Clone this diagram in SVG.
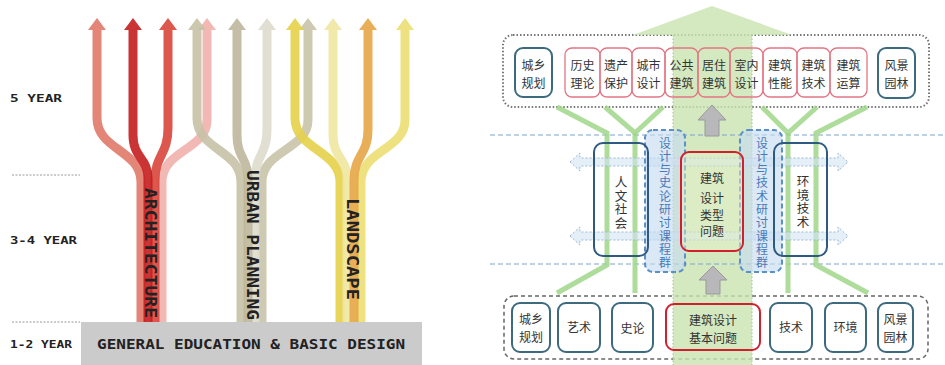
<svg xmlns="http://www.w3.org/2000/svg" width="945" height="365" viewBox="0 0 945 365">
<style>
.lbl{font-family:"DejaVu Sans Mono","Liberation Mono",monospace;font-weight:bold;fill:#222;}
.stem{fill:none;stroke-width:9;opacity:0.9;}
.head{opacity:0.9;}
.cn{font-family:"Noto Sans CJK SC","Noto Sans",sans-serif;font-size:12px;fill:#333;text-anchor:middle;}
.vt{font-family:"Noto Sans CJK SC","Noto Sans",sans-serif;writing-mode:vertical-rl;text-anchor:start;}
.pink{fill:none;stroke:#e27684;stroke-width:1.3;}
.teal{fill:#fff;stroke:#3d6a7e;stroke-width:2;}
.tealT{fill:none;stroke:#2e5a80;stroke-width:2;}
.gl{fill:none;stroke:#9fd68a;stroke-width:5;opacity:0.85;}
.bdash{stroke:#7fa3c8;stroke-width:1;stroke-dasharray:5 3;fill:none;}
.harr{fill:#d4e4f4;fill-opacity:0.6;stroke:#9db7d3;stroke-width:1;stroke-dasharray:2 2;}
.vbox{fill:#c8dcf0;fill-opacity:0.65;stroke:#5b8fc8;stroke-width:2;stroke-dasharray:5 3;}
.garr{fill:#b8b8bb;stroke:#999;stroke-width:1;}
</style>

<!-- LEFT PANEL -->
<g id="left-panel">
  <g id="year-labels">
    <text class="lbl" x="10" y="102" font-size="11" textLength="52" lengthAdjust="spacingAndGlyphs">5 YEAR</text>
    <text class="lbl" x="10" y="244" font-size="11" textLength="67" lengthAdjust="spacingAndGlyphs">3-4 YEAR</text>
    <text class="lbl" x="10" y="348" font-size="11" textLength="62" lengthAdjust="spacingAndGlyphs">1-2 YEAR</text>
    <line x1="12" y1="175" x2="80" y2="175" stroke="#999" stroke-width="1" stroke-dasharray="2 1.5"/>
    <line x1="12" y1="322" x2="80" y2="322" stroke="#999" stroke-width="1" stroke-dasharray="2 1.5"/>
  </g>
  <g id="base">
    <rect x="81" y="322" width="341" height="43" fill="#cbcbcb"/>
    <text class="lbl" x="97" y="349" font-size="14" textLength="308" lengthAdjust="spacingAndGlyphs">GENERAL EDUCATION &amp; BASIC DESIGN</text>
  </g>
  <g id="streams">
    <path class="stem" stroke="#e07868" d="M97 30V118C97 150 141 150 141 182V322"/>
    <polygon class="head" fill="#e07868" points="88,30 97,18 106,30"/>
    <path class="stem" stroke="#f0b0ac" d="M207 30V120C207 150 162 150 162 182V322"/>
    <polygon class="head" fill="#f0b0ac" points="198,30 207,18 216,30"/>
    <path class="stem" stroke="#d8453a" d="M168 30V128C168 155 155 155 155 180V322"/>
    <polygon class="head" fill="#d8453a" points="159,30 168,18 177,30"/>
    <path class="stem" stroke="#c41e1e" d="M133 30V135C133 158 148 158 148 178V322"/>
    <polygon class="head" fill="#c41e1e" points="124,30 133,18 142,30"/>
    <path class="stem" stroke="#c6c1a6" d="M197 30V118C197 150 241 150 241 182V322"/>
    <polygon class="head" fill="#c6c1a6" points="188,30 197,18 206,30"/>
    <path class="stem" stroke="#c9c4aa" d="M308 30V120C308 150 262 150 262 182V322"/>
    <polygon class="head" fill="#c9c4aa" points="299,30 308,18 317,30"/>
    <path class="stem" stroke="#dedbcc" d="M267 30V130C267 155 255 155 255 180V322"/>
    <polygon class="head" fill="#dedbcc" points="258,30 267,18 276,30"/>
    <path class="stem" stroke="#bcb79b" d="M237 30V135C237 158 248 158 248 178V322"/>
    <polygon class="head" fill="#bcb79b" points="228,30 237,18 246,30"/>
    <path class="stem" stroke="#e6d24a" d="M295 30V118C295 150 340 150 340 182V322"/>
    <polygon class="head" fill="#e6d24a" points="286,30 295,18 304,30"/>
    <path class="stem" stroke="#ecde72" d="M405 30V120C405 150 361 150 361 182V322"/>
    <polygon class="head" fill="#ecde72" points="396,30 405,18 414,30"/>
    <path class="stem" stroke="#f0e7a0" d="M333 30V135C333 158 347 158 347 178V322"/>
    <polygon class="head" fill="#f0e7a0" points="324,30 333,18 342,30"/>
    <path class="stem" stroke="#e6a646" d="M368 30V130C368 155 354 155 354 180V322"/>
    <polygon class="head" fill="#e6a646" points="359,30 368,18 377,30"/>
  </g>
  <g id="stream-labels">
    <text class="lbl" x="150" y="253" font-size="15" text-anchor="middle" dominant-baseline="central" transform="rotate(90 150 253)" textLength="130" lengthAdjust="spacingAndGlyphs">ARCHITECTURE</text>
    <text class="lbl" x="252" y="245" font-size="15" text-anchor="middle" dominant-baseline="central" transform="rotate(90 252 245)" textLength="150" lengthAdjust="spacingAndGlyphs">URBAN PLANNING</text>
    <text class="lbl" x="352" y="249" font-size="15" text-anchor="middle" dominant-baseline="central" transform="rotate(90 352 249)" textLength="102" lengthAdjust="spacingAndGlyphs">LANDSCAPE</text>
  </g>
</g>

<!-- RIGHT PANEL -->
<g id="frames">
  <rect x="503" y="35" width="426" height="72" rx="10" fill="none" stroke="#777" stroke-width="2" stroke-dasharray="1.5 2"/>
  <rect x="504" y="296" width="424" height="63" rx="10" fill="none" stroke="#666" stroke-width="1.5" stroke-dasharray="4 3"/>
</g>

<g id="connectors">
  <polygon points="673,365 673,35 633,35 712,6 792,35 752,35 752,365" fill="#c9e3b0" fill-opacity="0.8"/>
  <line x1="673" y1="35" x2="673" y2="365" stroke="#9cc48a" stroke-width="1" stroke-dasharray="1.5 2"/>
  <line x1="752" y1="35" x2="752" y2="365" stroke="#9cc48a" stroke-width="1" stroke-dasharray="1.5 2"/>
  <line class="bdash" x1="490" y1="135" x2="945" y2="135"/>
  <line class="bdash" x1="490" y1="264" x2="945" y2="264"/>
  <polyline class="gl" points="557,107 607,133 607,265 557,293"/>
  <polyline class="gl" points="605,107 635,133 663,107"/>
  <line class="gl" x1="635" y1="133" x2="635" y2="293"/>
  <polyline class="gl" points="762,107 788,133 817,107"/>
  <line class="gl" x1="788" y1="133" x2="788" y2="293"/>
  <polyline class="gl" points="867,107 816,133 816,265 868,293"/>
  <polygon class="harr" points="570,162 580,153 580,158 838,158 838,153 848,162 838,171 838,166 580,166 580,171"/>
  <polygon class="harr" points="570,236 580,227 580,232 838,232 838,227 848,236 838,245 838,240 580,240 580,245"/>
  <polygon class="garr" points="712,105 726,120 719,120 719,136 705,136 705,120 698,120"/>
  <polygon class="garr" points="713,266 727,280 720,280 720,294 706,294 706,280 699,280"/>
</g>

<g id="top-row">
  <g id="t-chengxiang"><rect class="teal" x="515" y="48" width="37" height="49" rx="8"/><text class="cn" x="533.5" y="70">城乡</text><text class="cn" x="533.5" y="88">规划</text></g>
  <g id="t-lishi"><rect class="pink" x="565" y="48" width="35" height="49" rx="7"/><text class="cn" x="582.5" y="70">历史</text><text class="cn" x="582.5" y="88">理论</text></g>
  <g id="t-yichan"><rect class="pink" x="600" y="48" width="32" height="49" rx="7"/><text class="cn" x="616" y="70">遗产</text><text class="cn" x="616" y="88">保护</text></g>
  <g id="t-chengshi"><rect class="pink" x="632" y="48" width="33" height="49" rx="7"/><text class="cn" x="648.5" y="70">城市</text><text class="cn" x="648.5" y="88">设计</text></g>
  <g id="t-gonggong"><rect class="pink" x="665" y="48" width="33" height="49" rx="7"/><text class="cn" x="681.5" y="70">公共</text><text class="cn" x="681.5" y="88">建筑</text></g>
  <g id="t-juzhu"><rect class="pink" x="698" y="48" width="32" height="49" rx="7"/><text class="cn" x="714" y="70">居住</text><text class="cn" x="714" y="88">建筑</text></g>
  <g id="t-shinei"><rect class="pink" x="730" y="48" width="33" height="49" rx="7"/><text class="cn" x="746.5" y="70">室内</text><text class="cn" x="746.5" y="88">设计</text></g>
  <g id="t-xingneng"><rect class="pink" x="763" y="48" width="34" height="49" rx="7"/><text class="cn" x="780" y="70">建筑</text><text class="cn" x="780" y="88">性能</text></g>
  <g id="t-jishu"><rect class="pink" x="797" y="48" width="33" height="49" rx="7"/><text class="cn" x="813.5" y="70">建筑</text><text class="cn" x="813.5" y="88">技术</text></g>
  <g id="t-yunsuan"><rect class="pink" x="830" y="48" width="37" height="49" rx="7"/><text class="cn" x="848.5" y="70">建筑</text><text class="cn" x="848.5" y="88">运算</text></g>
  <g id="t-fengjing"><rect class="teal" x="878" y="48" width="37" height="50" rx="8"/><text class="cn" x="896.5" y="70">风景</text><text class="cn" x="896.5" y="88">园林</text></g>
</g>

<g id="middle-row">
  <g id="m-shilun-course">
    <rect class="vbox" x="645" y="130" width="40" height="142" rx="8"/>
    <text class="vt" x="665" y="137" font-size="12" letter-spacing="1.3" fill="#4a7ab8">设计与史论研讨课程群</text>
  </g>
  <g id="m-jishu-course">
    <rect class="vbox" x="740" y="130" width="42" height="142" rx="8"/>
    <text class="vt" x="762" y="137" font-size="12" letter-spacing="1.3" fill="#4a7ab8">设计与技术研讨课程群</text>
  </g>
  <g id="m-renwen">
    <rect class="tealT" x="594" y="143" width="54" height="113" rx="9"/>
    <text class="vt" x="621" y="176" font-size="12.5" letter-spacing="1" fill="#333">人文社会</text>
  </g>
  <g id="m-huanjing">
    <rect class="tealT" x="774" y="143" width="53" height="113" rx="9"/>
    <text class="vt" x="803" y="175" font-size="12.5" letter-spacing="1" fill="#333">环境技术</text>
  </g>
  <g id="m-center">
    <rect x="681" y="152" width="62" height="99" rx="8" fill="#e4f0c8" fill-opacity="0.5" stroke="#d0202e" stroke-width="2"/>
    <text class="cn" font-size="13.5" x="712" y="183">建筑</text>
    <text class="cn" font-size="13.5" x="712" y="203">设计</text>
    <text class="cn" font-size="11" x="712" y="220">类型</text>
    <text class="cn" font-size="11" x="712" y="236">问题</text>
  </g>
</g>

<g id="bottom-row">
  <g id="b-chengxiang"><rect class="teal" x="512" y="303" width="38" height="49" rx="8"/><text class="cn" x="531" y="324">城乡</text><text class="cn" x="531" y="342">规划</text></g>
  <g id="b-yishu"><rect class="teal" x="558" y="303" width="42" height="49" rx="8"/><text class="cn" x="579" y="332">艺术</text></g>
  <g id="b-shilun"><rect class="teal" x="612" y="303" width="41" height="49" rx="8"/><text class="cn" x="632.5" y="333">史论</text></g>
  <g id="b-center"><rect x="666" y="304" width="94" height="46" rx="8" fill="none" stroke="#d0202e" stroke-width="2"/><text class="cn" font-size="12.5" x="713" y="325">建筑设计</text><text class="cn" font-size="12.5" x="713" y="343">基本问题</text></g>
  <g id="b-jishu"><rect class="teal" x="770" y="303" width="42" height="49" rx="8"/><text class="cn" x="791" y="332">技术</text></g>
  <g id="b-huanjing"><rect class="teal" x="825" y="303" width="41" height="49" rx="8"/><text class="cn" x="845.5" y="332">环境</text></g>
  <g id="b-fengjing"><rect class="teal" x="878" y="303" width="35" height="49" rx="8"/><text class="cn" x="895.5" y="324">风景</text><text class="cn" x="895.5" y="342">园林</text></g>
</g>
</svg>
